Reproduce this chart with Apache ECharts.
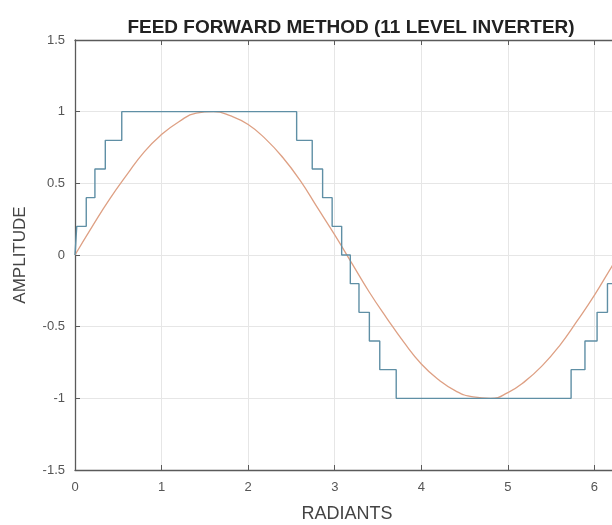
<!DOCTYPE html>
<html>
<head>
<meta charset="utf-8">
<script src="https://cdn.jsdelivr.net/npm/echarts@6/dist/echarts.min.js"></script>
<style>
  html, body { margin: 0; padding: 0; background: #fff; }
  #main { width: 612px; height: 525px; }
</style>
</head>
<body>
<div id="main"></div>
<script>
// switching angles (rad) and the level that starts at each one
var stepAngles = [0, 0.02, 0.13, 0.23, 0.35, 0.54, 2.56, 2.74, 2.86, 2.97, 3.08, 3.18, 3.28, 3.40, 3.52, 3.71, 5.73, 5.89, 6.03, 6.15, 6.26, 6.2832];
var stepLevels = [0, 0.2, 0.4, 0.6, 0.8, 1, 0.8, 0.6, 0.4, 0.2, 0, -0.2, -0.4, -0.6, -0.8, -1, -0.8, -0.6, -0.4, -0.2, 0, 0];

// reference sine
var sineX = [0, 0.2, 0.4, 0.6, 0.8, 1, 1.2, 1.4, 1.6, 1.8, 2, 2.2, 2.4, 2.6, 2.8, 3, 3.2, 3.4, 3.6, 3.8, 4, 4.2, 4.4, 4.6, 4.8, 5, 5.2, 5.4, 5.6, 5.8, 6, 6.2, 6.2832];
var sineY = [0, 0.2, 0.39, 0.56, 0.72, 0.84, 0.93, 0.99, 1.0, 0.97, 0.91, 0.81, 0.68, 0.52, 0.33, 0.14, -0.06, -0.26, -0.44, -0.61, -0.76, -0.87, -0.95, -0.99, -1.0, -0.96, -0.88, -0.77, -0.63, -0.46, -0.28, -0.08, 0];

var yTicks = [-1.5, -1, -0.5, 0, 0.5, 1, 1.5];

var myChart = echarts.init(document.getElementById('main'));

var stepData = [];
for (var i = 0; i < stepAngles.length; i++) {
    stepData.push([stepAngles[i], stepLevels[i]]);
}
var sineData = [];
for (var j = 0; j < sineX.length; j++) {
    sineData.push([sineX[j], sineY[j]]);
}

var axisColor = '#5a5a5a';
var font = 'Liberation Sans';

var option = {
    animation: false,
    title: {
        text: 'FEED FORWARD METHOD (11 LEVEL INVERTER)',
        left: 346,
        textAlign: 'center',
        top: 13,
        textStyle: { fontSize: 19, fontWeight: 'bold', color: '#222', fontFamily: font }
    },
    // the right edge of the box runs past the picture, as in the original
    grid: { left: 75, width: 544, top: 40, height: 430, outerBoundsMode: 'none', containLabel: false },
    xAxis: [{
        type: 'value',
        min: 0,
        max: 6.2832,
        interval: 1,
        name: 'RADIANTS',
        nameLocation: 'middle',
        nameGap: 35,
        nameTextStyle: { color: '#444', fontSize: 18, fontFamily: font },
        axisLine: { show: true, onZero: false, lineStyle: { color: axisColor, width: 1.3 } },
        axisTick: { show: true, inside: true, length: 5, lineStyle: { color: axisColor } },
        axisLabel: {
            color: '#555', fontSize: 13, fontFamily: font,
            margin: 11, showMaxLabel: false,
            formatter: function (v) { return Math.abs(v - Math.round(v)) < 1e-6 ? String(Math.round(v)) : ''; }
        },
        splitLine: { show: true, lineStyle: { color: '#e6e6e6' } }
    }, {
        type: 'value',
        position: 'top',
        min: 0,
        max: 6.2832,
        interval: 1,
        axisLine: { show: true, onZero: false, lineStyle: { color: axisColor, width: 1.3 } },
        axisTick: { show: true, inside: true, length: 5, lineStyle: { color: axisColor } },
        axisLabel: { show: false },
        splitLine: { show: false }
    }],
    yAxis: {
        type: 'value',
        min: yTicks[0],
        max: yTicks[yTicks.length - 1],
        interval: 0.5,
        name: 'AMPLITUDE',
        nameLocation: 'middle',
        nameGap: 46,
        nameTextStyle: { color: '#444', fontSize: 17, fontFamily: font },
        axisLine: { show: true, onZero: false, lineStyle: { color: axisColor, width: 1.3 } },
        axisTick: { show: true, inside: true, length: 5, lineStyle: { color: axisColor } },
        axisLabel: { color: '#555', fontSize: 13, fontFamily: font, margin: 10 },
        splitLine: { show: true, lineStyle: { color: '#e6e6e6' } }
    },
    series: [{
        type: 'line',
        data: sineData,
        smooth: 0.5,
        showSymbol: false,
        lineStyle: { color: '#dea084', width: 1.3 },
        z: 2
    }, {
        type: 'line',
        data: stepData,
        step: 'end',
        showSymbol: false,
        lineStyle: { color: '#5f8fa5', width: 1.4 },
        z: 3
    }]
};

myChart.setOption(option);
</script>
</body>
</html>
